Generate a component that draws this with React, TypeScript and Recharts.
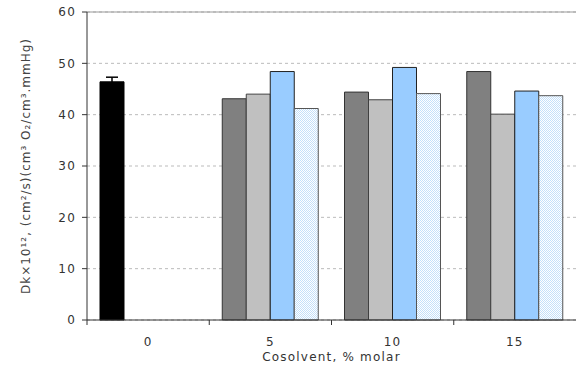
import { BarChart, Bar, XAxis, YAxis, CartesianGrid, ReferenceLine, Cell, ErrorBar } from 'recharts'

// Cosolvent content, % molar
const categories = ['0', '5', '10', '15']

// four series; category 0 only has the reference (black) bar
const series1 = [46.4, 43.1, 44.4, 48.4]
const series1Err = [0.9, null, null, null]
const series2 = [null, 44.0, 42.9, 40.1]
const series3 = [null, 48.4, 49.2, 44.6]
const series4 = [null, 41.2, 44.1, 43.7]

const yTicks = [0, 10, 20, 30, 40, 50, 60]

const data = categories.map((c, i) => ({
  name: c,
  s1: series1[i],
  s1err: series1Err[i],
  s2: series2[i],
  s3: series3[i],
  s4: series4[i],
}))

const FONT = '"DejaVu Sans", Verdana, sans-serif'
const TICK_SIZE = 5
const TICK_MARGIN = 12

// x ticks sit on the category boundaries, labels stay centered
function CategoryTick(props: any) {
  const { x, y, payload } = props
  const axisY = y - TICK_SIZE - TICK_MARGIN
  const left = x - (payload.offset || 0)
  return (
    <g>
      <line x1={left} x2={left} y1={axisY} y2={axisY + TICK_SIZE} stroke="#333" />
      <text x={x} y={y} dy="0.71em" textAnchor="middle" fill="#333" fontSize={12} letterSpacing={1.2} fontFamily={FONT}>
        {payload.value}
      </text>
    </g>
  )
}

export default function App() {
  return (
    <div style={{ position: 'fixed', left: 0, top: 0, background: '#fff' }}>
      <BarChart
        width={576}
        height={371}
        data={data}
        margin={{ top: 12, right: 0, bottom: 0, left: 0 }}
        barGap={0}
        barSize={24}
      >
        <defs>
          <pattern id="checks" width="2" height="2" patternUnits="userSpaceOnUse">
            <rect width="2" height="2" fill="#ffffff" />
            <rect width="1" height="1" fill="#c4e0fa" />
            <rect x="1" y="1" width="1" height="1" fill="#c4e0fa" />
          </pattern>
        </defs>
        <CartesianGrid vertical={false} stroke="#bbb" strokeDasharray="3 3" />
        <ReferenceLine y={60} stroke="#999" />
        <XAxis
          dataKey="name"
          height={51}
          axisLine={{ stroke: '#333' }}
          tickLine={false}
          tickSize={TICK_SIZE}
          tickMargin={TICK_MARGIN}
          tick={<CategoryTick />}
          interval={0}
          label={{
            content: (p: any) => {
              const vb = p.viewBox
              return (
                <text x={vb.x + vb.width / 2} y={357} textAnchor="middle" dominantBaseline="central" fill="#333" fontSize={12} letterSpacing={1.2} fontFamily={FONT}>
                  Cosolvent, % molar
                </text>
              )
            },
          }}
        />
        <YAxis
          width={87}
          domain={[0, 60]}
          ticks={yTicks}
          interval={0}
          axisLine={{ stroke: '#333' }}
          tickLine={{ stroke: '#333' }}
          tickSize={5}
          tickMargin={6}
          tick={{ fill: '#333', fontSize: 12, letterSpacing: 1.2, fontFamily: FONT }}
          label={{
            content: (p: any) => {
              const vb = p.viewBox
              const cy = vb.y + vb.height / 2
              return (
                <text x={26} y={cy} transform={`rotate(-90, 26, ${cy})`} textAnchor="middle" dominantBaseline="central" fill="#444" fontSize={12} letterSpacing={1} fontFamily={FONT}>
                  Dk×10¹², (cm²/s)(cm³ O₂/cm³.mmHg)
                </text>
              )
            },
          }}
        />
        <Bar dataKey="s1" isAnimationActive={false}>
          {data.map((d, i) => (
            <Cell key={`c-${i}`} fill={i === 0 ? '#000' : '#808080'} stroke={i === 0 ? '#000' : '#333'} />
          ))}
          <ErrorBar dataKey="s1err" width={6} stroke="#000" direction="y" />
        </Bar>
        <Bar dataKey="s2" fill="#c0c0c0" stroke="#404040" isAnimationActive={false} />
        <Bar dataKey="s3" fill="#99ccff" stroke="#222" isAnimationActive={false} />
        <Bar dataKey="s4" fill="url(#checks)" stroke="#555" isAnimationActive={false} />
      </BarChart>
    </div>
  )
}
